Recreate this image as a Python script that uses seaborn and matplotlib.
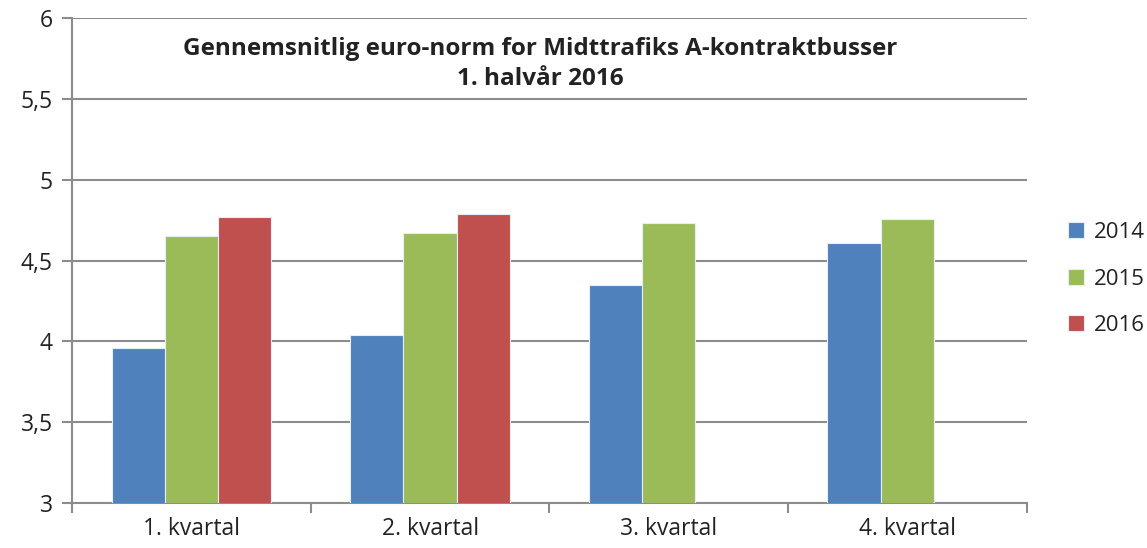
import pandas as pd
import numpy as np
import matplotlib.pyplot as plt
import seaborn as sns
from matplotlib.ticker import FuncFormatter, FixedLocator

sns.set_style("white")
plt.rcParams['font.family'] = ['Open Sans', 'DejaVu Sans']

# data
quarters = ["1. kvartal", "2. kvartal", "3. kvartal", "4. kvartal"]
years = ["2014", "2015", "2016"]
v2014 = [3.96, 4.04, 4.35, 4.61]
v2015 = [4.65, 4.67, 4.73, 4.76]
v2016 = [4.77, 4.79, np.nan, np.nan]
colors = ["#4F81BD", "#9BBB59", "#C0504D"]

df = pd.DataFrame({
    "kvartal": quarters * 3,
    "year": [y for y in years for _ in quarters],
    "value": v2014 + v2015 + v2016,
})

fig, ax = plt.subplots(figsize=(11.47, 5.48), dpi=100)
fig.subplots_adjust(left=0.063, right=0.895, top=0.967, bottom=0.082)

sns.barplot(data=df, x="kvartal", y="value", hue="year", order=quarters,
            hue_order=years, palette=colors, saturation=1, width=0.67,
            edgecolor="#E6EDF5", linewidth=0.8, ax=ax, zorder=3)

ax.set_ylim(3, 6)
ax.set_xlim(-0.5, 3.5)
ax.set_yticks(np.arange(3, 6.01, 0.5))
ax.yaxis.set_major_formatter(FuncFormatter(lambda v, p: f"{v:g}".replace(".", ",")))
ax.yaxis.grid(True, color="#8C8C8C", linewidth=1.5, zorder=0)
ax.set_axisbelow(True)

# tick marks between categories
ax.xaxis.set_minor_locator(FixedLocator(np.arange(-0.5, 3.6, 1)))
ax.tick_params(axis="x", which="major", length=0, labelsize=16.5, pad=10, colors="#222222")
ax.tick_params(axis="x", which="minor", length=7, width=1.5, color="#8C8C8C", direction="out")
ax.tick_params(axis="y", length=7, width=1.5, color="#8C8C8C", direction="out",
               labelsize=16.5, pad=7, labelcolor="#222222")
ax.tick_params(axis="x", bottom=True, which="both")
ax.tick_params(axis="y", left=True)

for s in ["top", "right"]:
    ax.spines[s].set_visible(False)
for s in ["left", "bottom"]:
    ax.spines[s].set_color("#8C8C8C")
    ax.spines[s].set_linewidth(1.5)

ax.set_xlabel("")
ax.set_ylabel("")

ax.text(0.49, 0.906, "Gennemsnitlig euro-norm for Midttrafiks A-kontraktbusser\n1. halvår 2016",
        transform=ax.transAxes, ha="center", va="center", fontsize=17.5,
        fontweight="bold", color="#222222", linespacing=1.35)

ax.legend(loc="center left", bbox_to_anchor=(1.022, 0.462), frameon=False,
          fontsize=16, handlelength=0.75, handleheight=0.75, labelspacing=1.15,
          handletextpad=0.45, labelcolor="#222222")

fig.savefig("out.png", dpi=100)
